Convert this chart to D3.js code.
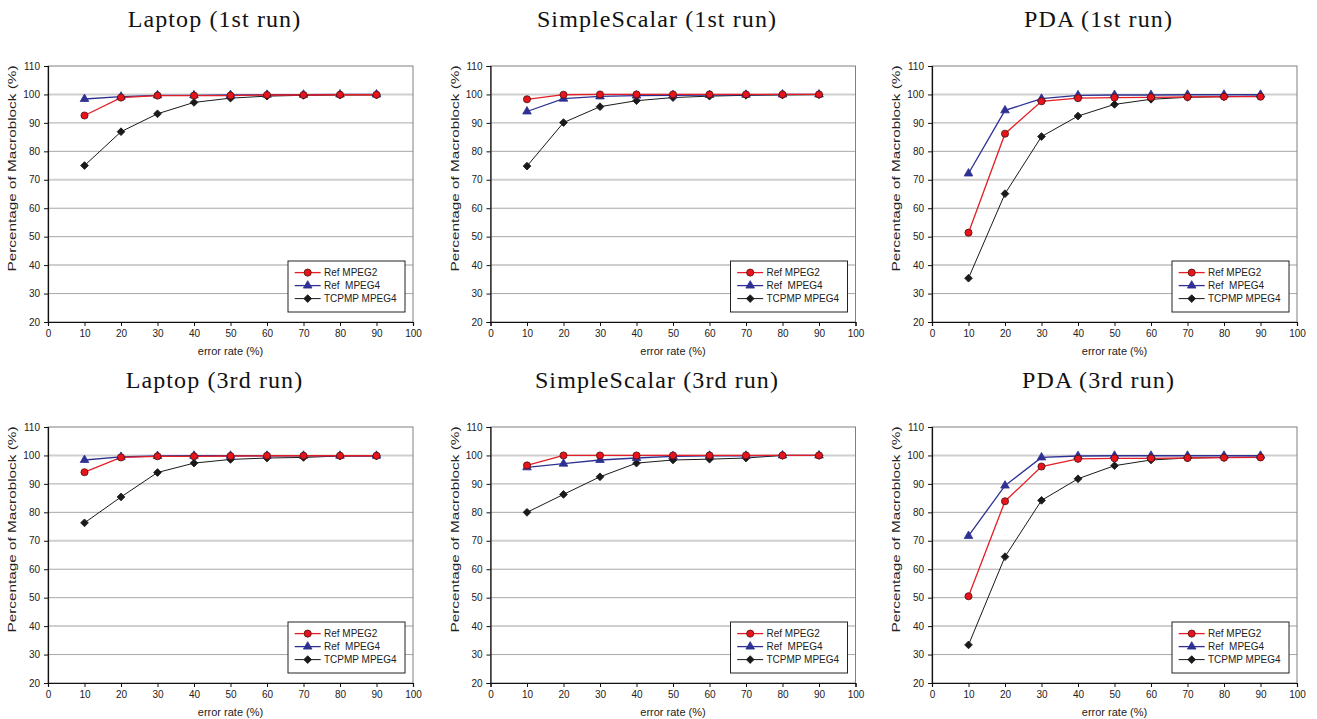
<!DOCTYPE html>
<html>
<head>
<meta charset="utf-8">
<script src="https://cdn.jsdelivr.net/npm/d3@7"></script>
<style>
  body { margin: 0; background: #fff; }
  svg { display: block; }
</style>
</head>
<body>
<svg id="chart"></svg>
<script>
const WIDTH = 1317;
const HEIGHT = 719;

// error rate (%) on the x axis
const errorRates = [10, 20, 30, 40, 50, 60, 70, 80, 90];
const xTicks = [0, 10, 20, 30, 40, 50, 60, 70, 80, 90, 100];
const yTicks = [20, 30, 40, 50, 60, 70, 80, 90, 100, 110];
const seriesNames = ['Ref MPEG2', 'Ref  MPEG4', 'TCPMP MPEG4'];
const panelTitles = ['Laptop (1st run)', 'SimpleScalar (1st run)', 'PDA (1st run)',
                     'Laptop (3rd run)', 'SimpleScalar (3rd run)', 'PDA (3rd run)'];

// percentage of macroblock
const laptop1Mpeg2 = [92.6, 98.9, 99.6, 99.6, 99.6, 99.8, 99.8, 99.9, 99.9];
const laptop1Mpeg4 = [98.4, 99.2, 99.7, 99.7, 99.8, 99.9, 99.9, 100, 100];
const laptop1Tcpmp = [75.0, 86.9, 93.2, 97.2, 98.7, 99.4, 99.7, 99.8, 99.8];

const simple1Mpeg2 = [98.3, 99.9, 100, 100, 100, 100, 100, 100, 100];
const simple1Mpeg4 = [94.0, 98.5, 99.3, 99.6, 99.7, 99.8, 99.9, 100, 100];
const simple1Tcpmp = [74.8, 90.1, 95.7, 97.8, 98.9, 99.4, 99.7, 99.8, 99.9];

const pda1Mpeg2 = [51.4, 86.2, 97.6, 98.7, 98.9, 99.0, 99.1, 99.2, 99.2];
const pda1Mpeg4 = [72.2, 94.4, 98.5, 99.7, 99.8, 99.8, 99.9, 99.9, 99.9];
const pda1Tcpmp = [35.4, 65.1, 85.2, 92.4, 96.5, 98.3, 99.0, 99.2, 99.4];

const laptop3Mpeg2 = [94.1, 99.3, 99.7, 99.7, 99.8, 99.9, 99.9, 99.9, 99.9];
const laptop3Mpeg4 = [98.4, 99.5, 99.8, 99.9, 99.9, 99.9, 99.9, 99.9, 99.9];
const laptop3Tcpmp = [76.3, 85.4, 94.0, 97.3, 98.6, 99.1, 99.3, 99.8, 99.8];

const simple3Mpeg2 = [96.5, 100, 100, 100, 100, 100, 100, 100, 100];
const simple3Mpeg4 = [95.8, 97.1, 98.4, 99.1, 99.7, 99.9, 99.9, 100, 100];
const simple3Tcpmp = [80.0, 86.3, 92.5, 97.3, 98.4, 98.7, 99.1, 100, 100];

const pda3Mpeg2 = [50.5, 83.9, 96.1, 98.8, 99.0, 99.0, 99.1, 99.2, 99.3];
const pda3Mpeg4 = [71.7, 89.4, 99.3, 99.8, 99.9, 99.9, 99.9, 99.9, 99.9];
const pda3Tcpmp = [33.4, 64.4, 84.2, 91.8, 96.4, 98.4, 99.1, 99.3, 99.4];

const panelSeries = [
  [laptop1Mpeg2, laptop1Mpeg4, laptop1Tcpmp],
  [simple1Mpeg2, simple1Mpeg4, simple1Tcpmp],
  [pda1Mpeg2, pda1Mpeg4, pda1Tcpmp],
  [laptop3Mpeg2, laptop3Mpeg4, laptop3Tcpmp],
  [simple3Mpeg2, simple3Mpeg4, simple3Tcpmp],
  [pda3Mpeg2, pda3Mpeg4, pda3Tcpmp]
];

// look of each series
const lineColors = ['#e41e26', '#2e3192', '#1a1a1a'];
const markerFill = ['#e8141c', '#2e3192', '#1a1a1a'];
const markerStroke = ['#4a1010', '#2e3192', '#1a1a1a'];
const markerTypes = [d3.symbolCircle, d3.symbolTriangle, d3.symbolSquare];
const markerSizes = [40, 32, 30];
const markerRotate = [0, 0, 45];   // square turned into a diamond
const lineWidths = [1.3, 1.3, 1];

const colLeft = [48, 490.5, 932];
const rowTop = [66, 427];
const plotW = 365;
const plotH = 256;

const svg = d3.select('#chart')
    .attr('width', WIDTH)
    .attr('height', HEIGHT)
    .attr('viewBox', [0, 0, WIDTH, HEIGHT]);

svg.append('rect').attr('width', WIDTH).attr('height', HEIGHT).attr('fill', '#fff');

panelSeries.forEach((series, p) => {
  const left = colLeft[p % 3];
  const top = rowTop[Math.floor(p / 3)];

  const x = d3.scaleLinear().domain([0, 100]).range([left, left + plotW]);
  const y = d3.scaleLinear().domain([20, 110]).range([top + plotH, top]);

  const g = svg.append('g');

  // title
  g.append('text')
      .attr('x', left + plotW / 2 - 16)
      .attr('y', top - 39.5)
      .attr('text-anchor', 'middle')
      .attr('font-family', '"Liberation Serif", "Times New Roman", serif')
      .attr('font-size', 24)
      .attr('letter-spacing', 1.1)
      .attr('fill', '#111')
      .text(panelTitles[p]);

  // horizontal gridlines
  g.append('g')
      .selectAll('line')
      .data(yTicks.filter(d => d > 20 && d < 110))
      .join('line')
      .attr('x1', left)
      .attr('x2', left + plotW)
      .attr('y1', d => y(d))
      .attr('y2', d => y(d))
      .attr('stroke', d => (d === 100 || d === 70 || d === 40) ? '#cfcfcf' : '#a8a8a8')
      .attr('stroke-width', d => (d === 100 || d === 70 || d === 40) ? 2 : 1);

  // plot frame (top + right)
  g.append('rect')
      .attr('x', left)
      .attr('y', top)
      .attr('width', plotW)
      .attr('height', plotH)
      .attr('fill', 'none')
      .attr('stroke', '#808080')
      .attr('stroke-width', 1);

  // axes
  const xAxis = g.append('g')
      .attr('transform', `translate(0,${top + plotH})`)
      .call(d3.axisBottom(x).tickValues(xTicks).tickSize(4).tickPadding(4).tickFormat(d3.format('d')));
  const yAxis = g.append('g')
      .attr('transform', `translate(${left},0)`)
      .call(d3.axisLeft(y).tickValues(yTicks).tickSize(4).tickPadding(4).tickFormat(d3.format('d')));
  [xAxis, yAxis].forEach(a => {
    a.select('.domain').attr('stroke', '#111').attr('stroke-width', 1.2);
    a.selectAll('.tick line').attr('stroke', '#111');
    a.selectAll('text')
        .attr('font-family', '"Liberation Sans", Arial, sans-serif')
        .attr('font-size', 10)
        .attr('fill', '#222');
  });

  // axis labels
  g.append('text')
      .attr('x', left + plotW / 2)
      .attr('y', top + plotH + 33)
      .attr('text-anchor', 'middle')
      .attr('font-family', '"Liberation Sans", Arial, sans-serif')
      .attr('font-size', 11)
      .attr('fill', '#222')
      .text('error rate (%)');

  g.append('text')
      .attr('transform', `translate(${left - 32},${top + 102.5}) rotate(-90)`)
      .attr('text-anchor', 'middle')
      .attr('font-family', '"Liberation Sans", Arial, sans-serif')
      .attr('font-size', 10)
      .attr('textLength', 206)
      .attr('lengthAdjust', 'spacingAndGlyphs')
      .attr('fill', '#222')
      .text('Percentage of Macroblock (%)');

  // series lines + markers
  const line = d3.line()
      .x((d, i) => x(errorRates[i]))
      .y(d => y(d));

  // draw black first so red/blue sit on top like the original
  [2, 1, 0].forEach(s => {
    g.append('path')
        .datum(series[s])
        .attr('d', line)
        .attr('fill', 'none')
        .attr('stroke', lineColors[s])
        .attr('stroke-width', lineWidths[s]);
  });
  [2, 1, 0].forEach(s => {
    g.append('g')
        .selectAll('path')
        .data(series[s])
        .join('path')
        .attr('transform', (d, i) => `translate(${x(errorRates[i])},${y(d)}) rotate(${markerRotate[s]})`)
        .attr('d', d3.symbol().type(markerTypes[s]).size(markerSizes[s]))
        .attr('fill', markerFill[s])
        .attr('stroke', markerStroke[s])
        .attr('stroke-width', 0.8);
  });

  // legend
  const legW = 117, legH = 51;
  const lx = left + plotW - 8 - legW;
  const ly = top + plotH - 61;
  const leg = g.append('g').attr('transform', `translate(${lx},${ly})`);
  leg.append('rect')
      .attr('width', legW)
      .attr('height', legH)
      .attr('fill', '#fff')
      .attr('stroke', '#222')
      .attr('stroke-width', 1);
  seriesNames.forEach((name, s) => {
    const ry = 11.6 + s * 13;
    leg.append('line')
        .attr('x1', 6.7).attr('x2', 32.7)
        .attr('y1', ry).attr('y2', ry)
        .attr('stroke', lineColors[s])
        .attr('stroke-width', lineWidths[s]);
    leg.append('path')
        .attr('transform', `translate(19.7,${ry}) rotate(${markerRotate[s]})`)
        .attr('d', d3.symbol().type(markerTypes[s]).size(markerSizes[s]))
        .attr('fill', markerFill[s])
        .attr('stroke', markerStroke[s])
        .attr('stroke-width', 0.8);
    leg.append('text')
        .attr('x', 36)
        .attr('y', ry + 3.6)
        .attr('font-family', '"Liberation Sans", Arial, sans-serif')
        .attr('font-size', 10)
        .attr('fill', '#222')
        .style('white-space', 'pre')
        .text(name);
  });
});
</script>
</body>
</html>
